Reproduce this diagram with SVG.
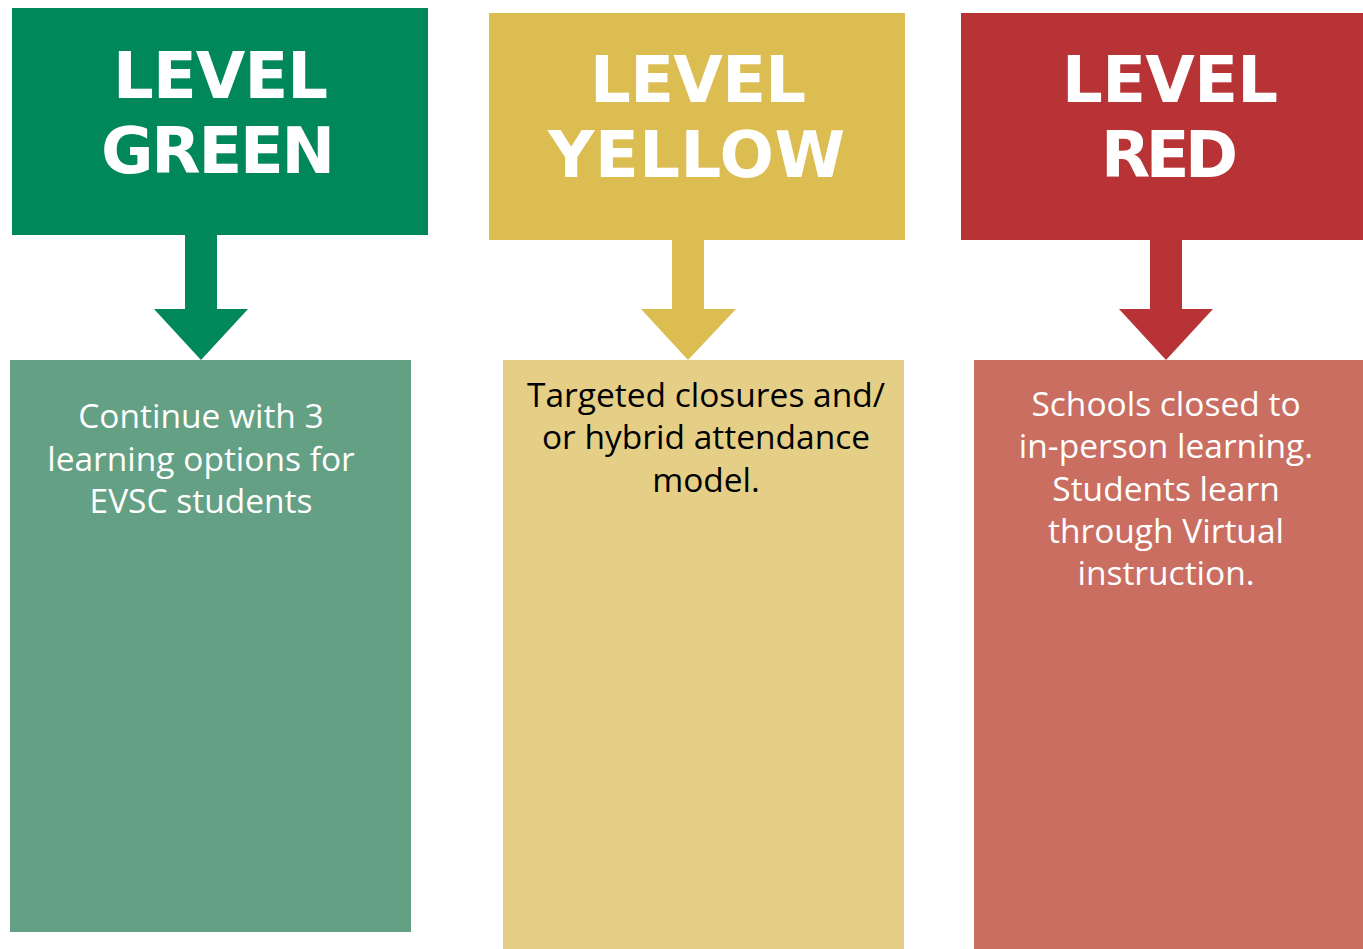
<svg xmlns="http://www.w3.org/2000/svg" width="1363" height="949" viewBox="0 0 1363 949">
<style>
.hd{font-family:"DejaVu Sans","Liberation Sans",sans-serif;font-weight:bold;font-size:64px;fill:#ffffff;text-anchor:middle}
.bd{font-family:"Open Sans",Lato,sans-serif;font-size:33.5px;text-anchor:middle}
.w{fill:#ffffff}
.k{fill:#000000}
</style>
<rect x="0" y="0" width="1363" height="949" fill="#ffffff"/>
<g id="connectors">
<path d="M185 235 H217 V309 H248 L201 360 L154 309 H185 Z" fill="#00875A"/>
<path d="M672 240 H704 V309 H736 L688 360 L641 309 H672 Z" fill="#DCBD51"/>
<path d="M1150 240 H1182 V309 H1213 L1166 360 L1119 309 H1150 Z" fill="#B83335"/>
</g>
<g id="green-header">
<rect x="12" y="8" width="416" height="227" fill="#00875A"/>
<text class="hd" x="220.5" y="98" textLength="215">LEVEL</text>
<text class="hd" x="218" y="173" textLength="234">GREEN</text>
</g>
<g id="yellow-header">
<rect x="489" y="13" width="416" height="227" fill="#DCBD51"/>
<text class="hd" x="698" y="102" textLength="216">LEVEL</text>
<text class="hd" x="696.5" y="177" textLength="297">YELLOW</text>
</g>
<g id="red-header">
<rect x="961" y="13" width="416" height="227" fill="#B83335"/>
<text class="hd" x="1170" y="102" textLength="216">LEVEL</text>
<text class="hd" x="1169.5" y="177" textLength="137">RED</text>
</g>
<g id="green-body">
<rect x="10" y="360" width="401" height="572" fill="#64A083"/>
<text class="bd w" x="201" y="428">Continue with 3</text>
<text class="bd w" x="201" y="471">learning options for</text>
<text class="bd w" x="201" y="513">EVSC students</text>
</g>
<g id="yellow-body">
<rect x="503" y="360" width="401" height="589" fill="#E5CF86"/>
<text class="bd k" x="706" y="407">Targeted closures and/</text>
<text class="bd k" x="706" y="449">or hybrid attendance</text>
<text class="bd k" x="706" y="492">model.</text>
</g>
<g id="red-body">
<rect x="974" y="360" width="401" height="589" fill="#C96E61"/>
<text class="bd w" x="1166" y="416">Schools closed to</text>
<text class="bd w" x="1166" y="458">in-person learning.</text>
<text class="bd w" x="1166" y="501">Students learn</text>
<text class="bd w" x="1166" y="543">through Virtual</text>
<text class="bd w" x="1166" y="585">instruction.</text>
</g>
</svg>
